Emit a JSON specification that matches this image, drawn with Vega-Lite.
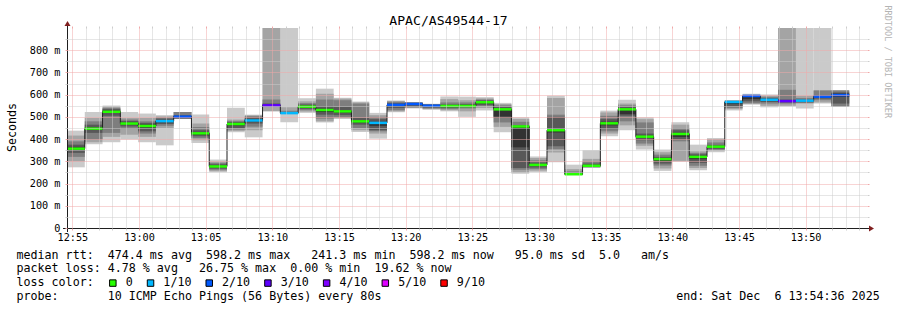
{
  "$schema": "https://vega.github.io/schema/vega-lite/v6.json",
  "width": 800,
  "height": 200,
  "autosize": "none",
  "padding": {"left": 67, "top": 28, "right": 30, "bottom": 82},
  "background": "white",
  "config": {
    "view": {"stroke": null},
    "font": "DejaVu Sans Mono",
    "axis": {"labelFont": "DejaVu Sans Mono", "labelFontSize": 10.2, "labelColor": "#000", "titleFont": "DejaVu Sans Mono", "titleFontWeight": "normal", "titleColor": "#000", "titleLimit": 2000}
  },
  "datasets": {
    "blocks": [
      {"t": 3276, "t2": 3356, "p1": 273, "p2": 300, "p3": 320, "p4": 338, "p5": 350, "p6": 365, "p7": 375, "p8": 390, "p9": 416, "p10": 438, "med": 357, "loss": "0"},
      {"t": 3356, "t2": 3436, "p1": 377, "p2": 386, "p3": 398, "p4": 428, "p5": 442, "p6": 452, "p7": 465, "p8": 480, "p9": 495, "p10": 522, "med": 447, "loss": "0"},
      {"t": 3436, "t2": 3516, "p1": 386, "p2": 410, "p3": 428, "p4": 505, "p5": 518, "p6": 528, "p7": 535, "p8": 540, "p9": 546, "p10": 551, "med": 523, "loss": "0"},
      {"t": 3516, "t2": 3596, "p1": 398, "p2": 420, "p3": 446, "p4": 457, "p5": 466, "p6": 474, "p7": 481, "p8": 488, "p9": 495, "p10": 522, "med": 470, "loss": "0"},
      {"t": 3596, "t2": 3676, "p1": 386, "p2": 410, "p3": 425, "p4": 435, "p5": 452, "p6": 465, "p7": 473, "p8": 480, "p9": 495, "p10": 515, "med": 459, "loss": "0"},
      {"t": 3676, "t2": 3756, "p1": 372, "p2": 450, "p3": 460, "p4": 468, "p5": 476, "p6": 486, "p7": 492, "p8": 497, "p9": 502, "p10": 508, "med": 481, "loss": "1/10"},
      {"t": 3756, "t2": 3836, "p1": 491, "p2": 491, "p3": 491, "p4": 494, "p5": 499, "p6": 503, "p7": 508, "p8": 522, "p9": 522, "p10": 522, "med": 501, "loss": "2/10"},
      {"t": 3836, "t2": 3916, "p1": 383, "p2": 395, "p3": 405, "p4": 413, "p5": 420, "p6": 430, "p7": 440, "p8": 455, "p9": 470, "p10": 511, "med": 426, "loss": "0"},
      {"t": 3916, "t2": 3996, "p1": 251, "p2": 256, "p3": 262, "p4": 267, "p5": 274, "p6": 281, "p7": 287, "p8": 293, "p9": 299, "p10": 308, "med": 277, "loss": "0"},
      {"t": 3996, "t2": 4076, "p1": 431, "p2": 437, "p3": 443, "p4": 450, "p5": 462, "p6": 472, "p7": 477, "p8": 482, "p9": 488, "p10": 541, "med": 468, "loss": "0"},
      {"t": 4076, "t2": 4156, "p1": 408, "p2": 440, "p3": 456, "p4": 470, "p5": 480, "p6": 490, "p7": 497, "p8": 503, "p9": 507, "p10": 510, "med": 484, "loss": "1/10"},
      {"t": 4156, "t2": 4236, "p1": 525, "p2": 525, "p3": 550, "p4": 550, "p5": 552, "p6": 555, "p7": 560, "p8": 578, "p9": 900, "p10": 900, "med": 552, "loss": "3/10"},
      {"t": 4236, "t2": 4316, "p1": 476, "p2": 513, "p3": 514, "p4": 515, "p5": 516, "p6": 519, "p7": 522, "p8": 528, "p9": 543, "p10": 900, "med": 517, "loss": "1/10"},
      {"t": 4316, "t2": 4396, "p1": 518, "p2": 524, "p3": 530, "p4": 536, "p5": 542, "p6": 550, "p7": 556, "p8": 562, "p9": 570, "p10": 584, "med": 546, "loss": "0"},
      {"t": 4396, "t2": 4476, "p1": 475, "p2": 480, "p3": 492, "p4": 510, "p5": 522, "p6": 537, "p7": 547, "p8": 578, "p9": 604, "p10": 627, "med": 531, "loss": "0"},
      {"t": 4476, "t2": 4556, "p1": 491, "p2": 494, "p3": 498, "p4": 508, "p5": 520, "p6": 530, "p7": 545, "p8": 575, "p9": 582, "p10": 586, "med": 525, "loss": "0"},
      {"t": 4556, "t2": 4636, "p1": 432, "p2": 440, "p3": 450, "p4": 465, "p5": 475, "p6": 485, "p7": 495, "p8": 560, "p9": 565, "p10": 569, "med": 480, "loss": "0"},
      {"t": 4636, "t2": 4716, "p1": 402, "p2": 425, "p3": 435, "p4": 440, "p5": 460, "p6": 478, "p7": 490, "p8": 500, "p9": 508, "p10": 518, "med": 473, "loss": "1/10"},
      {"t": 4716, "t2": 4796, "p1": 521, "p2": 525, "p3": 530, "p4": 540, "p5": 548, "p6": 556, "p7": 562, "p8": 568, "p9": 571, "p10": 574, "med": 554, "loss": "2/10"},
      {"t": 4796, "t2": 4876, "p1": 538, "p2": 540, "p3": 543, "p4": 548, "p5": 554, "p6": 561, "p7": 563, "p8": 565, "p9": 566, "p10": 567, "med": 558, "loss": "2/10"},
      {"t": 4876, "t2": 4956, "p1": 532, "p2": 535, "p3": 538, "p4": 542, "p5": 547, "p6": 552, "p7": 555, "p8": 557, "p9": 558, "p10": 559, "med": 550, "loss": "2/10"},
      {"t": 4956, "t2": 5036, "p1": 525, "p2": 530, "p3": 535, "p4": 540, "p5": 546, "p6": 552, "p7": 556, "p8": 565, "p9": 580, "p10": 592, "med": 549, "loss": "0"},
      {"t": 5036, "t2": 5116, "p1": 500, "p2": 525, "p3": 538, "p4": 543, "p5": 547, "p6": 552, "p7": 558, "p8": 565, "p9": 575, "p10": 591, "med": 549, "loss": "0"},
      {"t": 5116, "t2": 5196, "p1": 529, "p2": 540, "p3": 548, "p4": 553, "p5": 561, "p6": 569, "p7": 574, "p8": 578, "p9": 583, "p10": 589, "med": 566, "loss": "0"},
      {"t": 5196, "t2": 5276, "p1": 431, "p2": 455, "p3": 475, "p4": 495, "p5": 502, "p6": 530, "p7": 545, "p8": 552, "p9": 558, "p10": 563, "med": 534, "loss": "0"},
      {"t": 5276, "t2": 5356, "p1": 244, "p2": 250, "p3": 262, "p4": 270, "p5": 363, "p6": 455, "p7": 462, "p8": 478, "p9": 490, "p10": 498, "med": 457, "loss": "0"},
      {"t": 5356, "t2": 5436, "p1": 251, "p2": 258, "p3": 265, "p4": 272, "p5": 280, "p6": 288, "p7": 295, "p8": 305, "p9": 315, "p10": 322, "med": 284, "loss": "0"},
      {"t": 5436, "t2": 5516, "p1": 296, "p2": 340, "p3": 355, "p4": 368, "p5": 430, "p6": 445, "p7": 500, "p8": 510, "p9": 585, "p10": 595, "med": 440, "loss": "0"},
      {"t": 5516, "t2": 5596, "p1": 238, "p2": 239, "p3": 240, "p4": 241, "p5": 242, "p6": 245, "p7": 248, "p8": 255, "p9": 265, "p10": 285, "med": 242, "loss": "0"},
      {"t": 5596, "t2": 5676, "p1": 270, "p2": 272, "p3": 274, "p4": 276, "p5": 278, "p6": 284, "p7": 290, "p8": 300, "p9": 311, "p10": 350, "med": 280, "loss": "0"},
      {"t": 5676, "t2": 5756, "p1": 413, "p2": 425, "p3": 435, "p4": 445, "p5": 462, "p6": 478, "p7": 490, "p8": 505, "p9": 520, "p10": 528, "med": 471, "loss": "0"},
      {"t": 5756, "t2": 5836, "p1": 440, "p2": 462, "p3": 480, "p4": 505, "p5": 512, "p6": 536, "p7": 545, "p8": 552, "p9": 560, "p10": 577, "med": 534, "loss": "0"},
      {"t": 5836, "t2": 5916, "p1": 353, "p2": 370, "p3": 380, "p4": 395, "p5": 405, "p6": 415, "p7": 425, "p8": 475, "p9": 490, "p10": 498, "med": 411, "loss": "0"},
      {"t": 5916, "t2": 5996, "p1": 257, "p2": 268, "p3": 281, "p4": 290, "p5": 302, "p6": 314, "p7": 320, "p8": 330, "p9": 341, "p10": 353, "med": 310, "loss": "0"},
      {"t": 5996, "t2": 6076, "p1": 298, "p2": 302, "p3": 390, "p4": 398, "p5": 410, "p6": 428, "p7": 440, "p8": 450, "p9": 465, "p10": 476, "med": 423, "loss": "0"},
      {"t": 6076, "t2": 6156, "p1": 260, "p2": 270, "p3": 280, "p4": 293, "p5": 310, "p6": 325, "p7": 332, "p8": 338, "p9": 345, "p10": 375, "med": 320, "loss": "0"},
      {"t": 6156, "t2": 6236, "p1": 341, "p2": 348, "p3": 352, "p4": 356, "p5": 362, "p6": 368, "p7": 374, "p8": 385, "p9": 400, "p10": 405, "med": 366, "loss": "0"},
      {"t": 6236, "t2": 6316, "p1": 529, "p2": 535, "p3": 540, "p4": 548, "p5": 558, "p6": 566, "p7": 570, "p8": 572, "p9": 574, "p10": 576, "med": 567, "loss": "1/10"},
      {"t": 6316, "t2": 6396, "p1": 555, "p2": 558, "p3": 562, "p4": 570, "p5": 580, "p6": 590, "p7": 595, "p8": 598, "p9": 600, "p10": 604, "med": 594, "loss": "2/10"},
      {"t": 6396, "t2": 6476, "p1": 543, "p2": 550, "p3": 560, "p4": 567, "p5": 572, "p6": 580, "p7": 585, "p8": 590, "p9": 595, "p10": 601, "med": 577, "loss": "1/10"},
      {"t": 6476, "t2": 6556, "p1": 547, "p2": 550, "p3": 560, "p4": 565, "p5": 568, "p6": 574, "p7": 578, "p8": 622, "p9": 900, "p10": 900, "med": 571, "loss": "3/10"},
      {"t": 6556, "t2": 6636, "p1": 538, "p2": 560, "p3": 563, "p4": 566, "p5": 570, "p6": 575, "p7": 578, "p8": 585, "p9": 595, "p10": 900, "med": 573, "loss": "1/10"},
      {"t": 6636, "t2": 6716, "p1": 560, "p2": 565, "p3": 575, "p4": 582, "p5": 586, "p6": 593, "p7": 598, "p8": 619, "p9": 619, "p10": 900, "med": 591, "loss": "2/10"},
      {"t": 6716, "t2": 6796, "p1": 547, "p2": 547, "p3": 547, "p4": 560, "p5": 590, "p6": 605, "p7": 610, "p8": 619, "p9": 619, "p10": 619, "med": 598, "loss": "2/10"}
    ]
  },
  "data": {"name": "blocks"},
  "resolve": {"axis": {"x": "independent", "y": "independent"}, "legend": {"color": "independent"}},
  "layer": [
    {
      "mark": {"type": "rect", "color": "#cacaca"},
      "encoding": {
        "x": {"field": "t", "type": "quantitative", "scale": {"domain": [3276, 6876], "nice": false, "zero": false},
          "axis": {
            "orient": "bottom", "zindex": 1, "domain": false,
            "values": [3300,3360,3420,3480,3540,3600,3660,3720,3780,3840,3900,3960,4020,4080,4140,4200,4260,4320,4380,4440,4500,4560,4620,4680,4740,4800,4860,4920,4980,5040,5100,5160,5220,5280,5340,5400,5460,5520,5580,5640,5700,5760,5820,5880,5940,6000,6060,6120,6180,6240,6300,6360,6420,6480,6540,6600,6660,6720,6780,6840],
            "grid": true, "gridDash": [1, 1], "gridWidth": 1,
            "gridColor": {"condition": {"test": "datum.value % 300 === 0", "value": "#f0a8a8"}, "value": "#cdcdcd"},
            "ticks": true, "tickSize": 2, "tickWidth": 1,
            "tickColor": {"condition": {"test": "datum.value % 300 === 0", "value": "#f0a8a8"}, "value": "#cdcdcd"},
            "labelExpr": "datum.value % 300 === 0 ? (12 + floor(datum.value / 3600)) + ':' + format(floor((datum.value % 3600) / 60), '02d') : ''",
            "labelOverlap": false, "labelFlush": false, "labelBaseline": "alphabetic", "labelPadding": 10, "labelAlign": "center",
            "title": [
              "median rtt:\u00a0\u00a0474.4 ms avg\u00a0\u00a0598.2 ms max\u00a0\u00a0\u00a0241.3 ms min\u00a0\u00a0598.2 ms now\u00a0\u00a0\u00a095.0 ms sd\u00a0\u00a05.0\u00a0\u00a0\u00a0am/s",
              "packet loss: 4.78 % avg\u00a0\u00a0\u00a026.75 % max\u00a0\u00a00.00 % min\u00a0\u00a019.62 % now",
              "loss color:",
              "probe:\u00a0\u00a0\u00a0\u00a0\u00a0\u00a0\u00a010 ICMP Echo Pings (56 Bytes) every 80s\u00a0\u00a0\u00a0\u00a0\u00a0\u00a0\u00a0\u00a0\u00a0\u00a0\u00a0\u00a0\u00a0\u00a0\u00a0\u00a0\u00a0\u00a0\u00a0\u00a0\u00a0\u00a0\u00a0\u00a0\u00a0\u00a0\u00a0\u00a0\u00a0\u00a0\u00a0\u00a0\u00a0\u00a0\u00a0\u00a0\u00a0\u00a0\u00a0\u00a0\u00a0\u00a0end: Sat Dec\u00a0\u00a06 13:54:36 2025"
            ],
            "titleX": -51, "titleY": 30.3, "titleAlign": "left", "titleBaseline": "alphabetic", "titleAngle": 0,
            "titleFontSize": 11.66, "titleLineHeight": 13.7
          }
        },
        "x2": {"field": "t2"},
        "y": {"field": "p1", "type": "quantitative", "scale": {"domain": [0, 900], "nice": false, "zero": false},
          "axis": {
            "orient": "left", "zindex": 1, "domain": false,
            "values": [0,50,100,150,200,250,300,350,400,450,500,550,600,650,700,750,800,850],
            "grid": true, "gridDash": [1, 1], "gridWidth": 1,
            "gridColor": {"condition": {"test": "datum.value % 100 === 0", "value": "#f0a8a8"}, "value": "#cdcdcd"},
            "gridOpacity": {"condition": {"test": "datum.value === 0", "value": 0}, "value": 1},
            "ticks": true, "tickSize": 2, "tickWidth": 1,
            "tickColor": {"condition": {"test": "datum.value % 100 === 0", "value": "#f0a8a8"}, "value": "#cdcdcd"},
            "labelExpr": "datum.value % 100 === 0 ? (datum.value === 0 ? '0' : datum.value + ' m') : ''",
            "labelOverlap": false, "labelFlush": false, "labelPadding": 5, "labelBaseline": "middle",
            "title": "Seconds", "titleFontSize": 11.66, "titleAngle": 270, "titleAlign": "center", "titleBaseline": "alphabetic",
            "titleX": -52, "titleY": 99
          }
        },
        "y2": {"field": "p10"}
      }
    },
    {
      "mark": {"type": "rect", "color": "#a4a4a4"},
      "encoding": {
        "x": {"field": "t", "type": "quantitative", "scale": {"domain": [3276, 6876], "nice": false, "zero": false},
          "axis": {
            "orient": "top", "zindex": 1, "domain": false, "grid": false, "labels": false,
            "values": [3300,3360,3420,3480,3540,3600,3660,3720,3780,3840,3900,3960,4020,4080,4140,4200,4260,4320,4380,4440,4500,4560,4620,4680,4740,4800,4860,4920,4980,5040,5100,5160,5220,5280,5340,5400,5460,5520,5580,5640,5700,5760,5820,5880,5940,6000,6060,6120,6180,6240,6300,6360,6420,6480,6540,6600,6660,6720,6780,6840],
            "ticks": true, "tickSize": 2, "tickWidth": 1,
            "tickColor": {"condition": {"test": "datum.value % 300 === 0", "value": "#f0a8a8"}, "value": "#cdcdcd"},
            "title": "APAC/AS49544-17", "titleFontSize": 13.12, "titleX": 381, "titleY": -4, "titleAlign": "center", "titleBaseline": "alphabetic", "titleAngle": 0
          }
        },
        "x2": {"field": "t2"},
        "y": {"field": "p2", "type": "quantitative", "scale": {"domain": [0, 900], "nice": false, "zero": false},
          "axis": {
            "orient": "right", "zindex": 1, "domain": false, "grid": false, "labels": false,
            "values": [50,100,150,200,250,300,350,400,450,500,550,600,650,700,750,800,850],
            "ticks": true, "tickSize": 2, "tickWidth": 1,
            "tickColor": {"condition": {"test": "datum.value % 100 === 0", "value": "#f0a8a8"}, "value": "#cdcdcd"},
            "title": "RRDTOOL / TOBI OETIKER", "titleFontSize": 8.5, "titleColor": "#b4b4b4", "titleAngle": 90, "titleAlign": "left", "titleBaseline": "alphabetic",
            "titleX": 17.5, "titleY": -23
          }
        },
        "y2": {"field": "p9"}
      }
    },
    {
      "mark": {"type": "rect", "color": "#7e7e7e"},
      "encoding": {
        "x": {"field": "t", "type": "quantitative", "scale": {"domain": [3276, 6876], "nice": false, "zero": false}, "axis": null},
        "x2": {"field": "t2"},
        "y": {"field": "p3", "type": "quantitative", "scale": {"domain": [0, 900], "nice": false, "zero": false}, "axis": null},
        "y2": {"field": "p8"}
      }
    },
    {
      "mark": {"type": "rect", "color": "#585858"},
      "encoding": {
        "x": {"field": "t", "type": "quantitative", "scale": {"domain": [3276, 6876], "nice": false, "zero": false}, "axis": null},
        "x2": {"field": "t2"},
        "y": {"field": "p4", "type": "quantitative", "scale": {"domain": [0, 900], "nice": false, "zero": false}, "axis": null},
        "y2": {"field": "p7"}
      }
    },
    {
      "mark": {"type": "rect", "color": "#323232"},
      "encoding": {
        "x": {"field": "t", "type": "quantitative", "scale": {"domain": [3276, 6876], "nice": false, "zero": false}, "axis": null},
        "x2": {"field": "t2"},
        "y": {"field": "p5", "type": "quantitative", "scale": {"domain": [0, 900], "nice": false, "zero": false}, "axis": null},
        "y2": {"field": "p6"}
      }
    },
    {
      "mark": {"type": "line", "interpolate": "step-after", "color": "#202020", "strokeWidth": 1},
      "encoding": {
        "x": {"field": "t", "type": "quantitative", "scale": {"domain": [3276, 6876], "nice": false, "zero": false}, "axis": null},
        "y": {"field": "med", "type": "quantitative", "scale": {"domain": [0, 900], "nice": false, "zero": false}, "axis": null}
      }
    },
    {
      "mark": {"type": "rule", "strokeWidth": 2.5, "strokeCap": "butt"},
      "encoding": {
        "x": {"field": "t", "type": "quantitative", "scale": {"domain": [3276, 6876], "nice": false, "zero": false}, "axis": null},
        "x2": {"field": "t2"},
        "y": {"field": "med", "type": "quantitative", "scale": {"domain": [0, 900], "nice": false, "zero": false}, "axis": null},
        "color": {"field": "loss", "type": "nominal",
          "scale": {"domain": ["0", "1/10", "2/10", "3/10", "4/10", "5/10", "9/10"], "range": ["#26ff00", "#00b8ff", "#0059ff", "#5e00ff", "#7e00ff", "#dd00ff", "#ff0000"]},
          "legend": null
        }
      }
    },
    {
      "transform": [{"filter": "datum.t < 0"}],
      "mark": {"type": "square", "filled": true, "size": 42, "stroke": "#000", "strokeWidth": 1, "opacity": 1},
      "encoding": {
        "x": {"field": "t", "type": "quantitative", "scale": {"domain": [3276, 6876], "nice": false, "zero": false}, "axis": null},
        "y": {"field": "med", "type": "quantitative", "scale": {"domain": [0, 900], "nice": false, "zero": false}, "axis": null},
        "color": {"field": "loss", "type": "nominal",
          "scale": {"domain": ["0", "1/10", "2/10", "3/10", "4/10", "5/10", "9/10"], "range": ["#26ff00", "#00b8ff", "#0059ff", "#5e00ff", "#7e00ff", "#dd00ff", "#ff0000"]},
          "legend": {
            "orient": "none", "legendX": 40, "legendY": 249, "direction": "horizontal", "title": null, "padding": 0,
            "symbolType": "square", "symbolSize": 42, "symbolStrokeWidth": 1, "symbolStrokeColor": "#000", "symbolOpacity": 1,
            "labelFont": "DejaVu Sans Mono", "labelFontSize": 11.66, "labelColor": "#000", "labelOffset": 7, "columnPadding": 11.7,
            "values": ["0", "1/10", "2/10", "3/10", "4/10", "5/10", "9/10"]
          }
        }
      }
    },
    {
      "data": {"values": [{}]},
      "mark": {"type": "rule", "color": "#1f1f1f", "strokeWidth": 1, "yOffset": 0.5},
      "encoding": {
        "x": {"datum": 3258, "type": "quantitative", "scale": {"domain": [3276, 6876], "nice": false, "zero": false}, "axis": null},
        "x2": {"datum": 6894},
        "y": {"datum": 0, "type": "quantitative", "scale": {"domain": [0, 900], "nice": false, "zero": false}, "axis": null}
      }
    },
    {
      "data": {"values": [{}]},
      "mark": {"type": "rule", "color": "#1f1f1f", "strokeWidth": 1, "xOffset": 0.5},
      "encoding": {
        "x": {"datum": 3276, "type": "quantitative", "scale": {"domain": [3276, 6876], "nice": false, "zero": false}, "axis": null},
        "y": {"datum": -18, "type": "quantitative", "scale": {"domain": [0, 900], "nice": false, "zero": false}, "axis": null},
        "y2": {"datum": 918}
      }
    },
    {
      "data": {"values": [{}]},
      "mark": {"type": "point", "shape": "M-1,0.833L1,0.833L0,-0.833Z", "filled": true, "color": "#801f1f", "size": 36, "opacity": 1, "xOffset": 0.5},
      "encoding": {
        "x": {"datum": 3276, "type": "quantitative", "scale": {"domain": [3276, 6876], "nice": false, "zero": false}, "axis": null},
        "y": {"datum": 920.25, "type": "quantitative", "scale": {"domain": [0, 900], "nice": false, "zero": false}, "axis": null}
      }
    },
    {
      "data": {"values": [{}]},
      "mark": {"type": "point", "shape": "M-0.833,-1L-0.833,1L0.833,0Z", "filled": true, "color": "#801f1f", "size": 36, "opacity": 1, "yOffset": 0.5},
      "encoding": {
        "x": {"datum": 6896.25, "type": "quantitative", "scale": {"domain": [3276, 6876], "nice": false, "zero": false}, "axis": null},
        "y": {"datum": 0, "type": "quantitative", "scale": {"domain": [0, 900], "nice": false, "zero": false}, "axis": null}
      }
    }
  ]
}
